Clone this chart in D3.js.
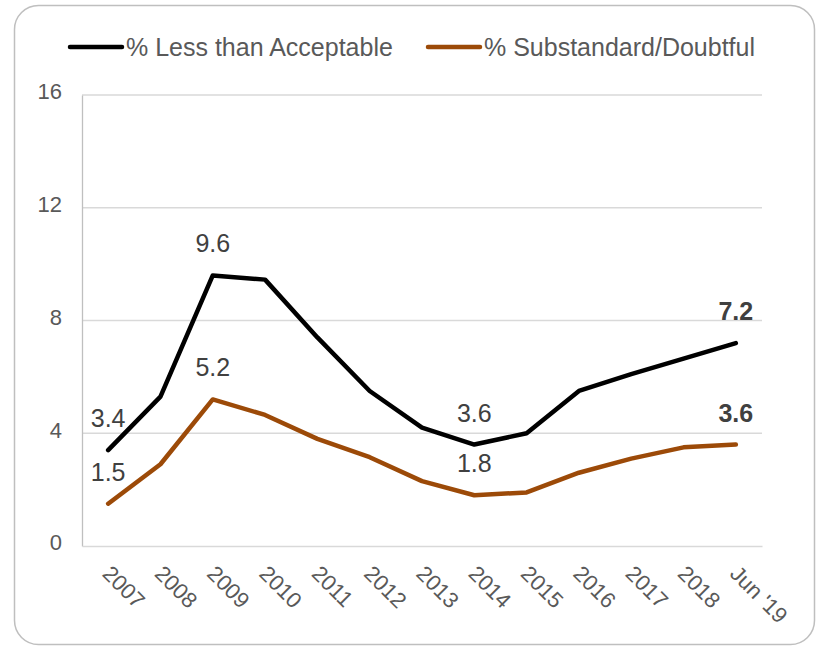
<!DOCTYPE html>
<html>
<head>
<meta charset="utf-8">
<script src="https://cdn.jsdelivr.net/npm/d3@7"></script>
<style>
  html, body { margin: 0; padding: 0; background: #fff; }
  svg { display: block; font-family: "Liberation Sans", Arial, sans-serif; }
</style>
</head>
<body>
<svg id="chart" width="817" height="647"></svg>
<script>
// Categories along the x axis
const categories = ["2007","2008","2009","2010","2011","2012","2013","2014","2015","2016","2017","2018","Jun '19"];
// Series values (percent)
const lessThanAcceptable = [3.4, 5.3, 9.6, 9.45, 7.4, 5.5, 4.2, 3.6, 4.0, 5.5, 6.1, 6.65, 7.2];
const substandardDoubtful = [1.5, 2.9, 5.2, 4.65, 3.8, 3.15, 2.3, 1.8, 1.9, 2.6, 3.1, 3.5, 3.6];
const seriesNames = ["% Less than Acceptable", "% Substandard/Doubtful"];
const yTicks = [0, 4, 8, 12, 16];
// Which points carry a value label, and whether it is bold
const labelledIdx = [0, 2, 7, 12];
const boldIdx = [12];

const colors = ["#000000", "#9c4a08"];

const svg = d3.select("#chart");
const margin = { left: 82, right: 55, top: 95, bottom: 101 };
const W = 817, H = 647;

// Rounded outer frame
svg.append("rect")
  .attr("x", 14.5).attr("y", 5.5)
  .attr("width", 800).attr("height", 639)
  .attr("rx", 24).attr("ry", 24)
  .attr("fill", "#fff").attr("stroke", "#bfbfbf").attr("stroke-width", 1.5);

const x = d3.scaleBand().domain(categories).range([margin.left, W - margin.right]);
const y = d3.scaleLinear().domain([0, 16]).range([H - margin.bottom, margin.top]);
const cx = d => x(d) + x.bandwidth() / 2;

// Horizontal gridlines
svg.append("g").selectAll("line").data(yTicks.filter(t => t > 0)).join("line")
  .attr("x1", margin.left).attr("x2", W - margin.right)
  .attr("y1", d => y(d)).attr("y2", d => y(d))
  .attr("stroke", "#d9d9d9").attr("stroke-width", 1.3);

// Y axis
const yAxis = svg.append("g")
  .attr("transform", `translate(${margin.left},0)`)
  .call(d3.axisLeft(y).tickValues(yTicks).tickSize(0).tickPadding(20));
yAxis.select(".domain").attr("stroke", "#bfbfbf").attr("stroke-width", 1.3);
yAxis.selectAll("text").attr("font-size", 22).attr("fill", "#595959")
  .attr("font-family", "Liberation Sans, Arial, sans-serif")
  .attr("dy", "0.18em");

// X axis with rotated labels
const xAxis = svg.append("g")
  .attr("transform", `translate(0,${y(0)})`)
  .call(d3.axisBottom(x).tickSize(0).tickPadding(0));
xAxis.select(".domain").attr("stroke", "#d9d9d9").attr("stroke-width", 1.3);
xAxis.selectAll("text")
  .attr("font-size", 22).attr("fill", "#595959")
  .attr("font-family", "Liberation Sans, Arial, sans-serif")
  .attr("text-anchor", "start")
  .attr("dy", "0")
  .attr("transform", "translate(-7,29) rotate(45)");

// Lines
const line = d3.line().x((d, i) => cx(categories[i])).y(d => y(d));
[lessThanAcceptable, substandardDoubtful].forEach((vals, k) => {
  svg.append("path")
    .datum(vals)
    .attr("d", line)
    .attr("fill", "none")
    .attr("stroke", colors[k])
    .attr("stroke-width", 4.5)
    .attr("stroke-linejoin", "round")
    .attr("stroke-linecap", "round");
});

// Value labels above points
[lessThanAcceptable, substandardDoubtful].forEach(vals => {
  svg.append("g").selectAll("text").data(labelledIdx).join("text")
    .attr("x", i => cx(categories[i]))
    .attr("y", i => y(vals[i]) - 23)
    .attr("text-anchor", "middle")
    .attr("font-size", 25)
    .attr("font-weight", i => boldIdx.includes(i) ? "bold" : "normal")
    .attr("fill", "#404040")
    .text(i => vals[i].toFixed(1));
});

// Legend
const legendItems = [
  { name: seriesNames[0], color: colors[0], x: 70 },
  { name: seriesNames[1], color: colors[1], x: 428 }
];
const lg = svg.append("g");
legendItems.forEach(it => {
  lg.append("line")
    .attr("x1", it.x).attr("x2", it.x + 52)
    .attr("y1", 47).attr("y2", 47)
    .attr("stroke", it.color).attr("stroke-width", 4.5)
    .attr("stroke-linecap", "round");
  lg.append("text")
    .attr("x", it.x + 56).attr("y", 56)
    .attr("font-size", 25).attr("fill", "#595959")
    .text(it.name);
});
</script>
</body>
</html>
